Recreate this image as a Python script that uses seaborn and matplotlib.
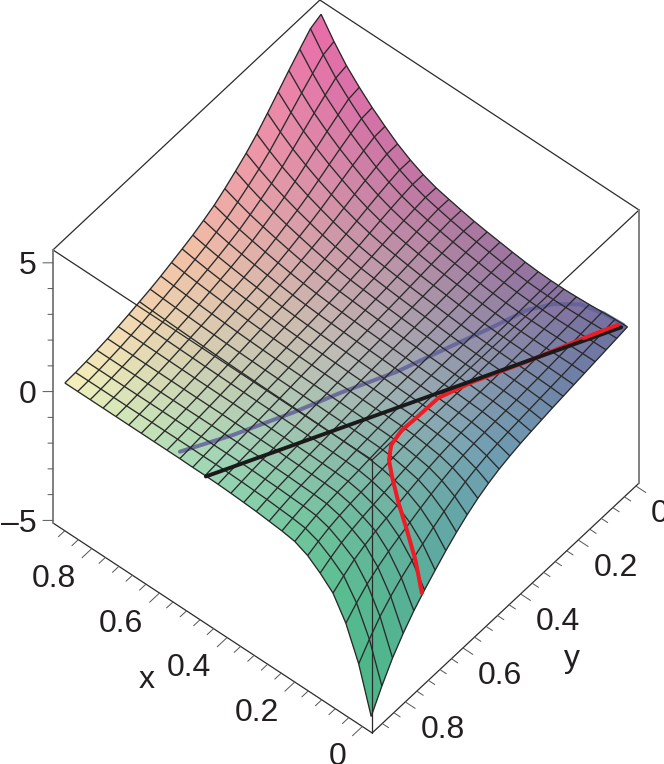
import numpy as np
import seaborn as sns
from matplotlib import pyplot as plt
from mpl_toolkits.mplot3d import proj3d

# mesh lines of the surface, read against the tick marks
x_lines = [-0.010, 0.027, 0.065, 0.103, 0.141, 0.178, 0.216, 0.254, 0.292, 0.33, 0.367, 0.405, 0.443,
           0.481, 0.518, 0.556, 0.594, 0.632, 0.67, 0.707, 0.745, 0.783, 0.821, 0.858, 0.896]
y_lines = [0.007, 0.044, 0.081, 0.119, 0.156, 0.193, 0.23, 0.267, 0.304, 0.341, 0.378, 0.415, 0.452,
           0.489, 0.526, 0.563, 0.6, 0.637, 0.674, 0.711, 0.748, 0.785, 0.822, 0.859, 0.896]

# heights read along the four rims of the surface
z_low_x = [0.99, 0.93, 0.87, 0.81, 0.75, 0.69, 0.63, 0.57, 0.50, 0.43, 0.35, 0.25, 0.13, -0.03, -0.23,
           -0.48, -0.77, -1.10, -1.47, -1.85, -2.27, -2.76, -3.33, -4.03, -4.82]
z_high_x = [5.30, 5.13, 4.72, 4.29, 3.85, 3.41, 2.99, 2.63, 2.32, 2.03, 1.77, 1.57, 1.39, 1.24, 1.10,
            0.96, 0.84, 0.74, 0.64, 0.55, 0.47, 0.41, 0.36, 0.32, 0.30]
z_low_y = [0.99, 0.96, 0.92, 0.88, 0.85, 0.83, 0.83, 0.85, 0.89, 0.95, 1.02, 1.09, 1.17, 1.27, 1.38,
           1.50, 1.68, 1.92, 2.22, 2.58, 2.98, 3.44, 3.95, 4.57, 5.30]
z_high_y = [-4.82, -3.10, -1.85, -1.01, -0.56, -0.20, 0.02, 0.10, 0.15, 0.20, 0.23, 0.26, 0.28, 0.29,
            0.29, 0.30, 0.30, 0.30, 0.30, 0.30, 0.30, 0.30, 0.30, 0.30, 0.30]
# height of the middle sheet at its four corners, without the two spikes
# order: low x low y, high x low y, low x high y, high x high y
z_sheet = [0.99, 1.5, 0.15, 0.30]

# the three curves on the surface
black_x = [0.479, 0.0]
black_y = [0.896, 0.017]
black_z = [0.27, 0.99]

red_x = [-0.002, 0.039, 0.085, 0.129, 0.174, 0.2, 0.219, 0.223, 0.216, 0.209, 0.174, 0.113, 0.052, 0.012]
red_y = [0.711, 0.685, 0.661, 0.638, 0.608, 0.588, 0.558, 0.516, 0.484, 0.406, 0.327, 0.213, 0.0865, 0.013]
red_z = [-2.03, -1.39, -0.86, -0.44, -0.12, 0.09, 0.2, 0.31, 0.41, 0.52, 0.62, 0.73, 0.84, 0.94]

slate_x = [0.5683, 0.5045, 0.4374, 0.3915, 0.3298, 0.2787, 0.2384, 0.2082, 0.1707, 0.1211, 0.0616, 0.0]
slate_y = [0.881, 0.7715, 0.6352, 0.5329, 0.4084, 0.2836, 0.1816, 0.1001, 0.0518, 0.0172, 0.0063, 0.0092]
slate_z = [0.306, 0.359, 0.412, 0.465, 0.518, 0.624, 0.677, 0.73, 0.783, 0.836, 0.889, 0.995]

x_major = [0, 0.2, 0.4, 0.6, 0.8]
x_minor = [0.04, 0.08, 0.12, 0.16, 0.24, 0.28, 0.32, 0.36, 0.44, 0.48, 0.52, 0.56, 0.64, 0.68, 0.72, 0.76, 0.84, 0.88]
y_major = [0, 0.2, 0.4, 0.6, 0.8]
y_minor = x_minor
z_major = [-5, 0, 5]
z_minor = [-4, -3, -2, -1, 1, 2, 3, 4]
x_tick_labels = ['0', '0.2', '0.4', '0.6', '0.8']
y_tick_labels = ['0', '0.2', '0.4', '0.6', '0.8']
z_tick_labels = ['\u20135', '0', '5']

xlim = (-0.029, 0.915)
ylim = (-0.011, 0.915)
zlim = (-5.1, 5.5)


def surface_heights(power=3):
    # middle sheet plus what the rims add, fading away from each rim
    nx, ny = len(x_lines), len(y_lines)
    s = np.arange(nx)[:, None] / (nx - 1)
    t = np.arange(ny)[None, :] / (ny - 1)
    c00, c10, c01, c11 = z_sheet
    sheet = (1 - s) * (1 - t) * c00 + s * (1 - t) * c10 + (1 - s) * t * c01 + s * t * c11
    low_x = np.array(z_low_x)[None, :] - sheet[0:1, :]
    high_x = np.array(z_high_x)[None, :] - sheet[-1:, :]
    low_y = np.array(z_low_y)[:, None] - sheet[:, 0:1]
    high_y = np.array(z_high_y)[:, None] - sheet[:, -1:]
    fade_s0, fade_s1 = (1 - s) ** power, s ** power
    fade_t0, fade_t1 = (1 - t) ** power, t ** power
    overlap = (fade_s0 * fade_t0 * low_x[0, 0] + fade_s1 * fade_t0 * high_x[0, 0]
               + fade_s0 * fade_t1 * low_x[0, -1] + fade_s1 * fade_t1 * high_x[0, -1])
    return sheet + fade_s0 * low_x + fade_s1 * high_x + fade_t0 * low_y + fade_t1 * high_y - overlap


def surface_colors():
    nx, ny = len(x_lines), len(y_lines)
    low = np.array(sns.blend_palette(['#7070a0', '#af78a0', '#eb6eaa'], nx))
    mid = np.array(sns.blend_palette(['#6ea0b2', '#bebcb4', '#f5bea5'], nx))
    high = np.array(sns.blend_palette(['#4bb987', '#96d7b4', '#faf5be'], nx))
    colors = np.zeros((nx, ny, 3))
    for i in range(nx):
        colors[i] = sns.blend_palette([low[i], mid[i], high[i]], ny)
    return colors


def span(lim, frac):
    return lim[0] + frac * (lim[1] - lim[0])


def label(x, y, z, text, ha='center'):
    # project by hand so the text keeps its real place on the figure
    px, py, _ = proj3d.proj_transform(x, y, z - 0.14, ax.get_proj())
    ax.text2D(px, py, text, transform=ax.transData, fontsize=23, color='#231f20', ha=ha, va='center')


sns.set_theme(style='white')
plt.rcParams['font.family'] = ['Liberation Sans', 'DejaVu Sans']

fig = plt.figure(figsize=(6.64, 7.64), dpi=100)
size = 900
ax = fig.add_axes([(346 - 0.5135 * size) / 664, (397.5 - 0.5135 * size) / 764, size / 664, size / 764],
                  projection='3d', computed_zorder=False)
ax.set_proj_type('ortho')
ax.view_init(elev=51.7, azim=129.97)
ax.set_box_aspect((416, 415, 440), zoom=713.5 / size)
ax.set_xlim(*xlim, view_margin=0)
ax.set_ylim(*ylim, view_margin=0)
ax.set_zlim(*zlim, view_margin=0)
ax.set_axis_off()
ax.patch.set_alpha(0)

X, Y = np.meshgrid(x_lines, y_lines, indexing='ij')
Z = surface_heights()

line = '#2b2b2b'
x0, x1 = xlim
y0, y1 = ylim
z0, z1 = zlim

# back of the box, behind the surface
ax.plot([x1, x1, x0], [y1, y0, y0], [z1, z1, z1], color=line, lw=0.9, zorder=1)

ax.plot_surface(X, Y, Z, facecolors=surface_colors(), rstride=1, cstride=1, shade=False,
                linewidth=0.3, antialiased=True, zorder=2)

# slate curve sits under the mesh lines
ax.plot(slate_x, slate_y, slate_z, color='#62609a', lw=2.9, alpha=0.85, zorder=3)
ax.plot_wireframe(X, Y, Z, rstride=1, cstride=1, color='#2a2a2a', linewidth=0.95, zorder=4)

# front of the box
ax.plot([x1, x0, x0], [y1, y1, y0], [z1, z1, z1], color=line, lw=0.9, zorder=5)
ax.plot([x1, x0, x0], [y1, y1, y0], [z0, z0, z0], color=line, lw=0.9, zorder=5)
ax.plot([x0, x0], [y1, y1], [z0, z1], color=line, lw=0.9, zorder=5)
ax.plot([x1, x1], [y1, y1], [z0, z1], color='#808080', lw=1.4, zorder=5)
ax.plot([x0, x0], [y0, y0], [z0, z1], color='#808080', lw=1.4, zorder=5)

# curves, red comes back over the black near the far corner
ax.plot(red_x, red_y, red_z, color='#ee1c25', lw=2.9, zorder=6)
ax.plot(black_x, black_y, black_z, color='#1a1a1a', lw=2.8, zorder=7)
ax.plot(red_x[-2:], red_y[-2:], red_z[-2:], color='#ee1c25', lw=2.6, zorder=8)

dx = x1 - x0
dy = y1 - y0
dz = z1 - z0
tick = '#555555'

# x ticks point along +y, y ticks along -x, z ticks to the screen left
for vals, length in ((x_major, 0.037), (x_minor, 0.024)):
    for v in vals:
        ax.plot([v, v], [y1, y1 + length * dy], [z0, z0], color=tick, lw=0.7, zorder=5)
for vals, length in ((y_major, 0.031), (y_minor, 0.02)):
    for v in vals:
        ax.plot([x0, x0 - length * dx], [v, v], [z0, z0], color=tick, lw=0.7, zorder=5)
for vals, length in ((z_major, 10), (z_minor, 5)):
    for v in vals:
        ax.plot([x1, x1 + length * 0.00184 * dx], [y1, y1 + length * 0.00155 * dy], [v, v],
                color=tick, lw=0.7, zorder=5)

for v, text in zip(x_major, x_tick_labels):
    label(v, y1 + 0.06 * dy, z0 - 0.044 * dz, text, ha='right')
for v, text in zip(y_major, y_tick_labels):
    label(x0 - 0.047 * dx, v, z0 - 0.0535 * dz, text, ha='left')
for v, text in zip(z_major, z_tick_labels):
    label(x1 + 0.0295 * dx, y1 + 0.0248 * dy, v, text, ha='right')
label(span(xlim, 0.526), span(ylim, 1.214), z0, 'x')
label(span(xlim, -0.2148), span(ylim, 0.5076), z0, 'y')

fig.savefig('out.png', dpi=100)
